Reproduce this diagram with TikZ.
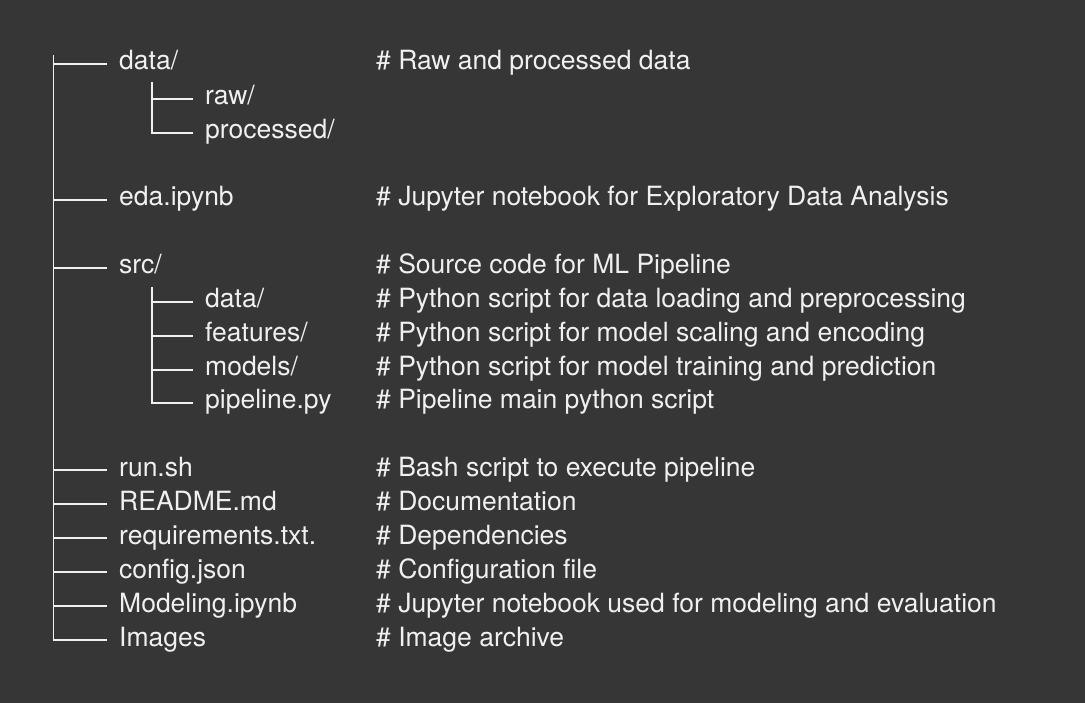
\documentclass[tikz,border=0pt]{standalone}
\usepackage{fontspec}
\setmainfont{TeX Gyre Heros}
\usepackage{xcolor}
\definecolor{slate}{HTML}{363636}
\definecolor{chalk}{HTML}{F0F0F0}

\begin{document}
\begin{tikzpicture}[x=1pt, y=-1pt,
    entry/.style={anchor=base west, inner xsep=12pt, inner ysep=0pt,
        text height=12pt, text depth=0pt, text=chalk,
        font=\fontsize{26.5}{30}\selectfont},
    note/.style={entry},
    branch/.style={draw=chalk, line width=1.8pt}]
    \fill[slate] (0,0) rectangle (1085,703);

    % --- Tree entries ---
    \node[entry] (data) at (107,70) {data/};
    \node[entry] (raw) at (193,105) {raw/};
    \node[entry] (processed) at (193,139) {processed/};
    \node[entry] (eda) at (107,206) {eda.ipynb};
    \node[entry] (src) at (107,274) {src/};
    \node[entry] (srcdata) at (193,308) {data/};
    \node[entry] (features) at (193,342) {features/};
    \node[entry] (models) at (193,376) {models/};
    \node[entry] (pipeline) at (193,409) {pipeline.py};
    \node[entry] (run) at (107,476) {run.sh};
    \node[entry] (readme) at (107,510) {README.md};
    \node[entry] (reqs) at (107,544) {requirements.txt.};
    \node[entry] (config) at (107,578) {config.json};
    \node[entry] (modeling) at (107,612) {Modeling.ipynb};
    \node[entry] (images) at (107,646) {Images};

    % --- Comments ---
    \node[note] (c-data) at (364,70) {\# Raw and processed data};
    \node[note] (c-eda) at (364,206) {\# Jupyter notebook for Exploratory Data Analysis};
    \node[note] (c-src) at (364,274) {\# Source code for ML Pipeline};
    \node[note] (c-srcdata) at (364,308) {\# Python script for data loading and preprocessing};
    \node[note] (c-features) at (364,342) {\# Python script for model scaling and encoding};
    \node[note] (c-models) at (364,376) {\# Python script for model training and prediction};
    \node[note] (c-pipeline) at (364,409) {\# Pipeline main python script};
    \node[note] (c-run) at (364,476) {\# Bash script to execute pipeline};
    \node[note] (c-readme) at (364,510) {\# Documentation};
    \node[note] (c-reqs) at (364,544) {\# Dependencies};
    \node[note] (c-config) at (364,578) {\# Configuration file};
    \node[note] (c-modeling) at (364,612) {\# Jupyter notebook used for modeling and evaluation};
    \node[note] (c-images) at (364,646) {\# Image archive};

    % --- Branches ---
    \coordinate (trunk) at (53.5,55);
    \coordinate (datatrunk) at (152,82);
    \coordinate (srctrunk) at (152,287);

    \draw[branch] (trunk) |- (images.west);
    \foreach \n in {data,eda,src,run,readme,reqs,config,modeling} {
        \draw[branch] (\n.west -| trunk) -- (\n.west);
    }
    \draw[branch] (datatrunk) |- (processed.west);
    \draw[branch] (raw.west -| datatrunk) -- (raw.west);
    \draw[branch] (srctrunk) |- (pipeline.west);
    \foreach \n in {srcdata,features,models} {
        \draw[branch] (\n.west -| srctrunk) -- (\n.west);
    }
\end{tikzpicture}
\end{document}
